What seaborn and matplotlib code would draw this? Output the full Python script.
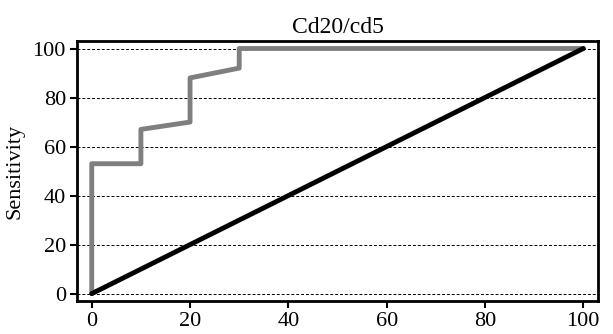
import matplotlib
matplotlib.use("Agg")
import matplotlib.pyplot as plt
import seaborn as sns
import pandas as pd

# ROC curve (1 - specificity, sensitivity)
fpr = [0, 0, 10, 10, 20, 20, 30, 30, 100]
tpr = [0, 53, 53, 67, 70, 88, 92, 100, 100]
ref_x = [0, 100]
ref_y = [0, 100]
ticks = [0, 20, 40, 60, 80, 100]

sns.set_style("white")
plt.rcParams["font.family"] = ["Liberation Serif", "DejaVu Serif"]
plt.rcParams["text.color"] = "black"
plt.rcParams["axes.labelcolor"] = "black"

roc = pd.DataFrame({"x": fpr, "y": tpr})
ref = pd.DataFrame({"x": ref_x, "y": ref_y})

fig = plt.figure(figsize=(6.13, 3.34), dpi=100)
ax = fig.add_axes([0.1256, 0.0988, 0.85, 0.778])

for t in ticks:
    ax.axhline(t, color="black", lw=0.7, ls=(0, (3, 2)), zorder=0)

sns.lineplot(data=roc, x="x", y="y", color="#7f7f7f", lw=3.5, sort=False,
             estimator=None, ax=ax)
sns.lineplot(data=ref, x="x", y="y", color="black", lw=3.5, sort=False,
             estimator=None, ax=ax)

ax.set_xlim(-3, 103)
ax.set_ylim(-3, 103)
ax.set_xticks(ticks)
ax.set_yticks(ticks)
ax.tick_params(axis="both", labelsize=16, length=5, width=1.5, direction="out",
               bottom=True, left=True, pad=3, colors="black")
ax.set_xlabel("")
ax.set_ylabel("Sensitivity", fontsize=16, labelpad=6)
ax.set_title("Cd20/cd5", fontsize=17, pad=6, color="black")
for s in ax.spines.values():
    s.set_linewidth(2)
    s.set_color("black")

fig.savefig("out.png", dpi=100)
